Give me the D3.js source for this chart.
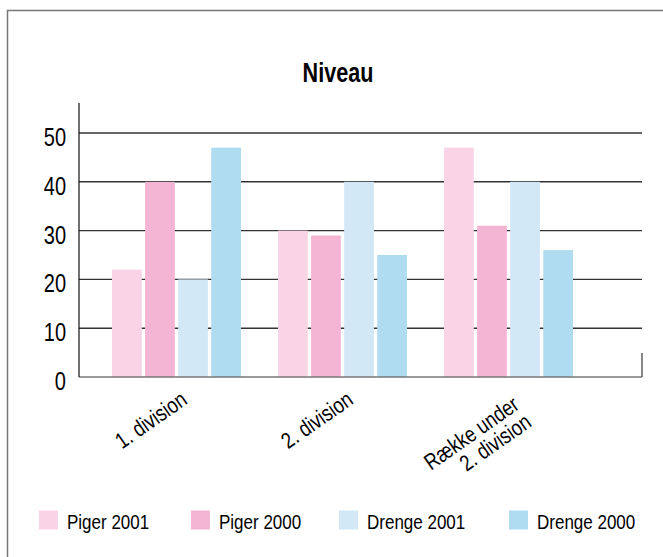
<!DOCTYPE html>
<html>
<head>
<meta charset="utf-8">
<script src="https://cdn.jsdelivr.net/npm/d3@7"></script>
<style>
  body { margin: 0; background: #fff; }
  text { font-family: "Liberation Sans", Arial, Helvetica, sans-serif; fill: #000; }
</style>
</head>
<body>
<div id="chart"></div>
<script>
/* DATA */
var categories = [["1. division"], ["2. division"], ["Række under", "2. division"]];
var seriesNames = ["Piger 2001", "Piger 2000", "Drenge 2001", "Drenge 2000"];
var piger2001 = [22, 30, 47];
var piger2000 = [40, 29, 31];
var drenge2001 = [20, 40, 40];
var drenge2000 = [47, 25, 26];
var yTicks = [0, 10, 20, 30, 40, 50];
var colors = ["#f9d3e6", "#f4b5d5", "#d2e8f6", "#afdcf0"];

var seriesValues = [piger2001, piger2000, drenge2001, drenge2000];

/* SETUP */
var width = 663;
var height = 557;
var narrow = 0.81; // squeeze text sideways, the original uses a condensed face

var svg = d3.select("#chart")
  .append("svg")
  .attr("width", width)
  .attr("height", height);

// outer frame (only the top and left edges show in the picture)
svg.append("path")
  .attr("d", "M7.5,557 V10.5 H663")
  .attr("fill", "none")
  .attr("stroke", "#777")
  .attr("stroke-width", 1.5);

svg.append("text")
  .attr("transform", "translate(338,82) scale(0.8,1)")
  .attr("text-anchor", "middle")
  .style("font-size", "27px")
  .style("font-weight", "bold")
  .text("Niveau");

var left = 79, right = 642, axisTop = 103;

var y = d3.scaleLinear()
  .domain([0, 50])
  .range([377, 133]);

var x0 = d3.scaleBand()
  .domain(d3.range(categories.length))
  .range([93.5, 591.5])
  .paddingInner(37 / 166)
  .paddingOuter(37 / 166 / 2);

var x1 = d3.scaleBand()
  .domain(d3.range(seriesNames.length))
  .range([0, x0.bandwidth()])
  .paddingInner(0.1);

// gridlines
svg.append("g")
  .selectAll("line")
  .data(yTicks.filter(function(d) { return d > 0; }))
  .enter()
  .append("line")
  .attr("x1", left)
  .attr("x2", right)
  .attr("y1", function(d) { return y(d); })
  .attr("y2", function(d) { return y(d); })
  .attr("stroke", "#333")
  .attr("stroke-width", 1.4);

// y tick labels
svg.append("g")
  .selectAll("text")
  .data(yTicks)
  .enter()
  .append("text")
  .attr("transform", function(d) { return "translate(66," + (y(d) + 13) + ") scale(0.8,1)"; })
  .attr("text-anchor", "end")
  .style("font-size", "25px")
  .text(function(d) { return d; });

// bars
var groups = svg.append("g")
  .selectAll("g")
  .data(categories)
  .enter()
  .append("g")
  .attr("transform", function(d, i) { return "translate(" + x0(i) + ",0)"; });

groups.selectAll("rect")
  .data(function(d, i) {
    return seriesValues.map(function(s, k) { return { k: k, v: s[i] }; });
  })
  .enter()
  .append("rect")
  .attr("x", function(d) { return x1(d.k); })
  .attr("width", x1.bandwidth())
  .attr("y", function(d) { return y(d.v); })
  .attr("height", function(d) { return y(0) - y(d.v); })
  .attr("fill", function(d) { return colors[d.k]; });

// axes lines
svg.append("line")
  .attr("x1", left).attr("x2", right)
  .attr("y1", y(0)).attr("y2", y(0))
  .attr("stroke", "#777")
  .attr("stroke-width", 1.6);

svg.append("line")
  .attr("x1", left).attr("x2", left)
  .attr("y1", axisTop).attr("y2", y(0))
  .attr("stroke", "#111")
  .attr("stroke-width", 1.2);

svg.append("line")
  .attr("x1", right).attr("x2", right)
  .attr("y1", 353).attr("y2", y(0))
  .attr("stroke", "#555")
  .attr("stroke-width", 1.4);

// category labels, rotated
svg.append("g")
  .selectAll("text")
  .data(categories)
  .enter()
  .append("text")
  .attr("transform", function(d, i) {
    var cx = x0(i) + x0.bandwidth() / 2;
    var ty = d.length > 1 ? 408 : 403;
    return "translate(" + (cx + 12) + "," + ty + ") rotate(-35) scale(" + narrow + ",1)";
  })
  .attr("text-anchor", "end")
  .style("font-size", "22.5px")
  .selectAll("tspan")
  .data(function(d) { return d; })
  .enter()
  .append("tspan")
  .attr("x", 0)
  .attr("dy", function(d, i) { return i === 0 ? 0 : "0.95em"; })
  .text(function(d) { return d; });

// legend
var legendPos = [39, 191, 339, 509];
var legend = svg.append("g")
  .selectAll("g")
  .data(seriesNames)
  .enter()
  .append("g")
  .attr("transform", function(d, i) { return "translate(" + legendPos[i] + ",510.5)"; });

legend.append("rect")
  .attr("width", 19)
  .attr("height", 19)
  .attr("fill", function(d, i) { return colors[i]; });

legend.append("text")
  .attr("transform", "translate(28,18) scale(" + narrow + ",1)")
  .style("font-size", "21px")
  .text(function(d) { return d; });
</script>
</body>
</html>
